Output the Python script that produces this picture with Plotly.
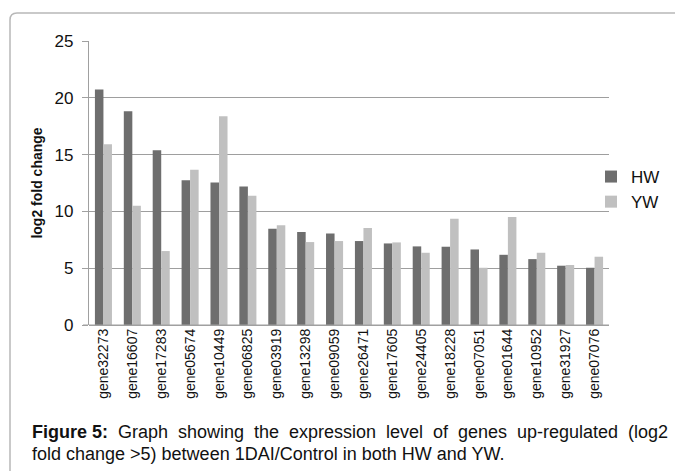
import plotly.graph_objects as go

genes = ["gene32273", "gene16607", "gene17283", "gene05674", "gene10449", "gene06825",
         "gene03919", "gene13298", "gene09059", "gene26471", "gene17605", "gene24405",
         "gene18228", "gene07051", "gene01644", "gene10952", "gene31927", "gene07076"]
hw = [20.72, 18.82, 15.39, 12.75, 12.54, 12.19, 8.47, 8.18, 8.06, 7.39, 7.18, 6.92,
      6.89, 6.65, 6.18, 5.80, 5.22, 5.04]
yw = [15.91, 10.49, 6.51, 13.66, 18.38, 11.37, 8.79, 7.30, 7.39, 8.53, 7.27, 6.36,
      9.35, 5.04, 9.50, 6.36, 5.28, 6.01]
y_ticks = [0, 5, 10, 15, 20, 25]

caption_line1 = ["<b>Figure 5:</b>", "Graph", "showing", "the", "expression", "level",
                 "of", "genes", "up-regulated", "(log2"]
caption_line2 = "fold change >5) between 1DAI/Control in both HW and YW."

# page body has an 8px margin: figure is drawn offset by 8px
OFF = 8
W, H = 683 - OFF, 471 - OFF
X_LEFT, X_RIGHT, Y_TOP, Y_BOT = 89, 609, 41, 325  # plot area in page coords
L, T = X_LEFT - OFF, Y_TOP - OFF
R, B = W - (X_RIGHT - OFF), H - (Y_BOT - OFF)
pw, ph = X_RIGHT - X_LEFT, Y_BOT - Y_TOP

def px(x):
    return (x - X_LEFT) / pw

def py(y):
    return (Y_BOT - y) / ph

FONT = "Liberation Sans, Arial, sans-serif"

fig = go.Figure()
fig.add_trace(go.Bar(x=genes, y=hw, name="HW", marker=dict(color="#6e6e6e", line=dict(width=0))))
fig.add_trace(go.Bar(x=genes, y=yw, name="YW", marker=dict(color="#c0c0c0", line=dict(width=0))))

fig.update_layout(
    width=W, height=H,
    margin=dict(l=L, r=R, t=T, b=B, autoexpand=False),
    paper_bgcolor="white", plot_bgcolor="white",
    barmode="group", bargap=0.41, bargroupgap=0,
    font=dict(family=FONT, color="#111111"),
    showlegend=True,
    legend=dict(x=px(591), xanchor="left", y=py(189.5), yanchor="middle",
                font=dict(size=17, family=FONT, color="#111111"),
                bgcolor="rgba(0,0,0,0)", tracegroupgap=0, itemwidth=30),
    xaxis=dict(tickangle=-90, tickfont=dict(size=14, family=FONT, color="#111111"),
               showline=False, showgrid=False, ticks="", ticklabelstandoff=0),
    yaxis=dict(range=[0, 25], tickvals=y_ticks, tickfont=dict(size=17, family=FONT, color="#111111"),
               showgrid=True, gridcolor="#9e9e9e", gridwidth=1,
               showline=True, linecolor="#a0a0a0", linewidth=1.2,
               ticks="outside", ticklen=6, tickcolor="#a0a0a0", ticklabelstandoff=5,
               zeroline=True, zerolinecolor="#a0a0a0", zerolinewidth=1.2,
               title=dict(text="<b>log2 fold change</b>", font=dict(size=14, family=FONT, color="#111111"),
                          standoff=8)),
)

# x axis baseline extending slightly left (tick at 0)
fig.add_shape(type="line", xref="paper", yref="y", x0=px(83), x1=1, y0=0, y1=0,
              line=dict(color="#a0a0a0", width=1.2))

# rounded border box
x0, x1 = px(10), px(682)
yt, yb = py(13), py(490)
rx, ry = 7 / pw, 7 / ph
path = (f"M {x0},{yb} L {x0},{yt - ry} Q {x0},{yt} {x0 + rx},{yt} "
        f"L {x1 - rx},{yt} Q {x1},{yt} {x1},{yt - ry} L {x1},{yb}")
fig.add_shape(type="path", xref="paper", yref="paper", path=path,
              line=dict(color="#b8b8b8", width=1.5))

# caption line 1 (justified: words placed individually)
word_x = [32, 118, 178, 254, 289, 386, 433, 458, 517, 628]
for wx, word in zip(word_x, caption_line1):
    fig.add_annotation(text=word, xref="paper", yref="paper", x=px(wx - 2), y=py(432),
                       xanchor="left", yanchor="middle", showarrow=False,
                       font=dict(size=18, family=FONT, color="#111111"))
fig.add_annotation(text=caption_line2, xref="paper", yref="paper", x=px(30), y=py(454),
                   xanchor="left", yanchor="middle", showarrow=False,
                   font=dict(size=18, family=FONT, color="#111111"))

fig.write_html("out.html")
